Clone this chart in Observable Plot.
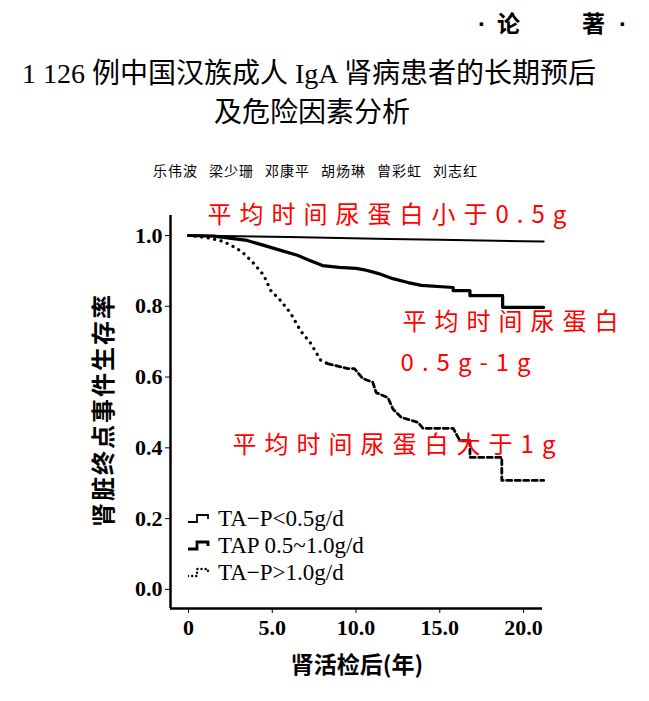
<!DOCTYPE html>
<html><head><meta charset="utf-8">
<script src="https://cdn.jsdelivr.net/npm/d3@7"></script>
<script src="https://cdn.jsdelivr.net/npm/@observablehq/plot@0.6"></script>
<style>
body{margin:0;background:#fff;}
#page{position:relative;width:649px;height:701px;overflow:hidden;font-family:"Noto Sans CJK SC",sans-serif;color:#000;}
.abs{position:absolute;white-space:nowrap;line-height:1;}
#chart{position:absolute;left:0;top:190px;}
.leg{position:absolute;left:188px;display:flex;align-items:center;font-family:"Liberation Serif",serif;font-size:23px;line-height:1;}
.leg svg{margin-right:6px;}
</style></head><body><div id="page">
<div class="abs" style="left:478px;top:12px;font-size:24px;font-weight:bold;font-family:'Liberation Sans',sans-serif">·</div>
<div class="abs" style="left:497px;top:11px;font-size:23px;font-weight:bold">论</div>
<div class="abs" style="left:582px;top:11px;font-size:23px;font-weight:bold">著</div>
<div class="abs" style="left:619px;top:12px;font-size:24px;font-weight:bold;font-family:'Liberation Sans',sans-serif">·</div>
<div class="abs" style="left:22px;top:60px;font-size:28px;font-family:'Liberation Serif','Noto Sans CJK SC',serif">1 126 例中国汉族成人 IgA 肾病患者的长期预后</div>
<div class="abs" style="left:214px;top:99px;font-size:28px;font-family:'Liberation Serif','Noto Sans CJK SC',serif">及危险因素分析</div>
<div class="abs" id="authors" style="left:153px;top:163px;font-size:14px;display:flex;gap:11px;letter-spacing:1px"></div>
<div class="abs" id="ylab" style="left:102px;top:410px;font-size:24px;font-weight:bold;letter-spacing:2px;transform:translate(-50%,-50%) rotate(-90deg)"></div>
<div class="abs" id="xlab" style="left:357px;top:663px;font-size:23px;font-weight:bold;transform:translate(-50%,-50%)"></div>
<div id="chart"></div>
<div id="legend"></div>
</div>
<script>
// ---- data ----
const authors = ["乐伟波","梁少珊","邓康平","胡炀琳","曾彩虹","刘志红"];
const yTitle = "肾脏终点事件生存率";
const xTitle = "肾活检后(年)";
const xTicks = [0, 5, 10, 15, 20];
const yTicks = [0, 0.2, 0.4, 0.6, 0.8, 1.0];

const lowYears = [0, 3, 6, 9, 12, 15, 17.5, 20, 21.2];
const lowSurv  = [1.0, 0.998, 0.996, 0.993, 0.99, 0.988, 0.986, 0.984, 0.983];

const midYears = [0, 1.5, 3.5, 4.5, 5.5, 6.5, 7.2, 8.0, 9.0, 10.0, 10.5, 11.3, 12.2, 13.1, 13.9, 15.8, 15.8, 16.8, 16.8, 18.75, 18.75, 21.2];
const midSurv  = [1.0, 0.998, 0.986, 0.972, 0.958, 0.944, 0.93, 0.915, 0.91, 0.907, 0.903, 0.893, 0.878, 0.867, 0.859, 0.853, 0.844, 0.844, 0.83, 0.83, 0.797, 0.797];

const highYears = [0, 1.1, 2.1, 2.9, 3.3, 3.9, 4.5, 4.9, 5.5, 6.1, 6.7, 7.3, 7.9, 8.3, 9.5, 9.9, 10.4, 11.0, 11.2, 11.9, 12.2, 12.7, 13.7, 14.0, 15.8, 16.2, 16.8, 16.8, 18.7, 18.7, 21.2];
const highSurv  = [1.0, 0.994, 0.983, 0.963, 0.949, 0.921, 0.887, 0.845, 0.816, 0.78, 0.73, 0.695, 0.647, 0.638, 0.624, 0.624, 0.596, 0.585, 0.556, 0.542, 0.51, 0.486, 0.472, 0.455, 0.455, 0.42, 0.42, 0.373, 0.373, 0.308, 0.308];

const seriesLabels = ["TA\u2212P<0.5g/d", "TAP 0.5~1.0g/d", "TA\u2212P>1.0g/d"];

const noteTexts = ["平均时间尿蛋白小于0.5g", "平均时间尿蛋白", "0.5g-1g", "平均时间尿蛋白大于1g"];
const noteYears = [1.13, 12.78, 12.66, 2.63];
const noteSurv  = [1.056, 0.754, 0.638, 0.407];

// ---- build ----
document.getElementById("authors").innerHTML = authors.map(a => `<span>${a}</span>`).join("");
document.getElementById("ylab").textContent = yTitle;
document.getElementById("xlab").textContent = xTitle;

const low = lowYears.map((t, i) => ({t, s: lowSurv[i]}));
const mid = midYears.map((t, i) => ({t, s: midSurv[i]}));
const high = highYears.map((t, i) => ({t, s: highSurv[i]}));
const highDot = high.filter(d => d.t <= 8.3);
const highDash = high.filter(d => d.t >= 8.3);
const notes = noteTexts.map((text, i) => ({text, t: noteYears[i], s: noteSurv[i]}));

const xDomain = [-1.075, 21.13];
const yDomain = [-0.054, 1.0565];

const chart = Plot.plot({
  width: 649, height: 511,
  marginLeft: 170, marginRight: 107, marginTop: 25, marginBottom: 93,
  x: {domain: xDomain},
  y: {domain: yDomain},
  style: {fontFamily: "'Liberation Serif', serif", fontSize: "22px", fontWeight: "bold", overflow: "visible", background: "transparent"},
  marks: [
    Plot.ruleX([xDomain[0]], {stroke: "#000", strokeWidth: 2.5}),
    Plot.ruleY([yDomain[0]], {stroke: "#000", strokeWidth: 2.5}),
    Plot.axisY({ticks: yTicks, tickFormat: d => d.toFixed(1), tickSize: 5, tickPadding: 3, label: null, fontSize: 22, stroke: "#000"}),
    Plot.axisX({ticks: xTicks, tickFormat: d => d === 0 ? "0" : d.toFixed(1), tickSize: 5, tickPadding: 6, label: null, fontSize: 22, stroke: "#000"}),
    Plot.line(low, {x: "t", y: "s", stroke: "#000", strokeWidth: 2}),
    Plot.line(mid, {x: "t", y: "s", stroke: "#000", strokeWidth: 3.2}),
    Plot.line(highDot, {x: "t", y: "s", stroke: "#000", strokeWidth: 3.2, strokeDasharray: "0.1,6.5", strokeLinecap: "round"}),
    Plot.line(highDash, {x: "t", y: "s", stroke: "#000", strokeWidth: 2.8, strokeDasharray: "5,3.5"}),
    Plot.text(notes, {x: "t", y: "s", text: "text", fill: "#f00", fontSize: 24, fontWeight: "normal", fontFamily: "'Noto Sans CJK SC', sans-serif", textAnchor: "start"})
  ]
});
document.getElementById("chart").appendChild(chart);
d3.select(chart).selectAll("text")
  .filter(function() { return noteTexts.includes(this.textContent); })
  .attr("letter-spacing", "8px")
  .style("letter-spacing", "8px");

// legend
const legIcons = [
  `<path d="M0,10H9V3H20V7" fill="none" stroke="#000" stroke-width="1.8"/>`,
  `<path d="M0,10H9V3H20V7" fill="none" stroke="#000" stroke-width="2.8"/>`,
  `<path d="M0,10H9V3H20V7" fill="none" stroke="#000" stroke-width="2.4" stroke-dasharray="0.1,4" stroke-linecap="round"/>`
];
const legTops = [507, 534, 561];
document.getElementById("legend").innerHTML = seriesLabels.map((lab, i) =>
  `<div class="leg" style="top:${legTops[i]}px"><svg width="24" height="14" viewBox="0 0 24 14">${legIcons[i]}</svg><span>${lab}</span></div>`
).join("");
</script>
</body></html>
